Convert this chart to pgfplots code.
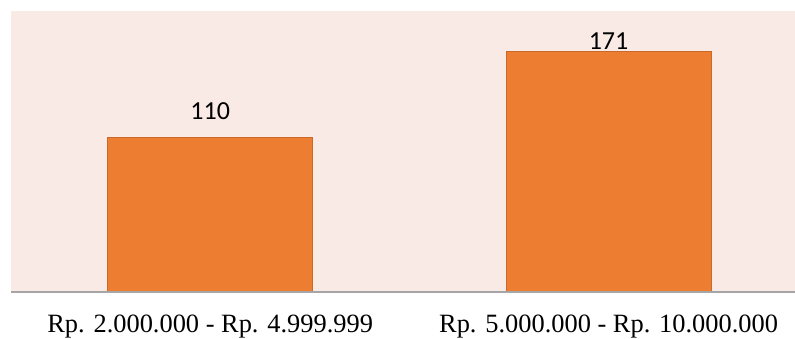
\documentclass[border=0pt]{standalone}
\usepackage{pgfplots}
\pgfplotsset{compat=1.18}
\usepackage{fontspec}
\setmainfont{Liberation Serif}
\newfontfamily\carlito{Carlito}
\definecolor{bgc}{HTML}{FAEAE6}
\definecolor{barc}{HTML}{ED7D31}
\definecolor{barb}{HTML}{C9692A}
\definecolor{axc}{HTML}{A6A6A6}
\begin{document}
\begin{tikzpicture}
\begin{axis}[
  scale only axis,
  width=392pt, height=140.5pt,
  xmin=-0.5, xmax=1.468,
  ymin=0, ymax=200,
  /pgf/number format/assume math mode=true,
  axis background/.style={fill=bgc},
  axis line style={draw=none},
  axis x line*=bottom,
  hide y axis,
  xtick={0,1},
  xticklabels={Rp. 2.000.000 - Rp. 4.999.999, Rp. 5.000.000 - Rp. 10.000.000},
  major tick length=0pt,
  xticklabel style={anchor=north, inner sep=0pt, yshift=-11.5pt, font=\fontsize{13.2}{15}\selectfont},
  ybar, bar shift=0pt, bar width=102.5pt,
  nodes near coords,
  every node near coord/.append style={anchor=south, inner sep=0pt, font=\carlito\fontsize{13}{15}\selectfont, text=black},
  clip=false,
]
\addplot[fill=barc, draw=barb, line width=0.5pt, every node near coord/.append style={yshift=8.5pt}] coordinates {(0,110)};
\addplot[fill=barc, draw=barb, line width=0.5pt, every node near coord/.append style={yshift=1pt}] coordinates {(1,171)};
\draw[axc, line width=0.75pt] (rel axis cs:0,0) -- (rel axis cs:1,0);
\end{axis}
\pgfresetboundingbox
\path (-5.5pt,-23pt) rectangle (392pt,146pt);
\end{tikzpicture}
\end{document}
